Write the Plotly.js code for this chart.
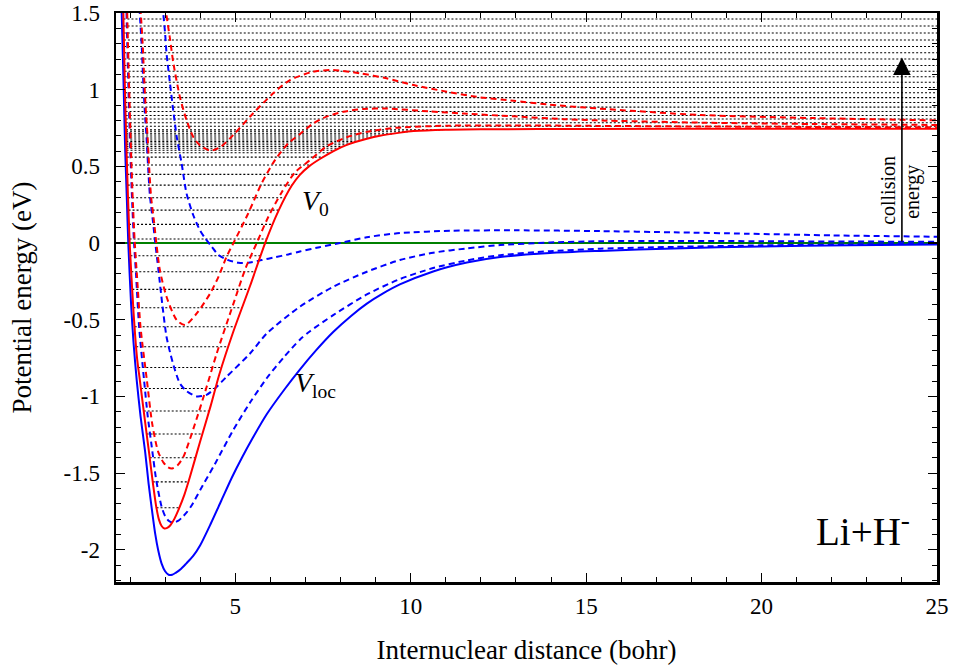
<!DOCTYPE html>
<html>
<head>
<meta charset="utf-8">
<script src="https://cdn.plot.ly/plotly-3.0.1.min.js"></script>
<style>html,body{margin:0;padding:0;background:#fff;}#chart{width:954px;height:665px;}</style>
</head>
<body>
<div id="chart"></div>
<script>
// ---------- data ----------
const xRange = [1.6, 25];
const yRange = [-2.21, 1.5];

// V_loc (blue solid)
const xLoc = [1.74,1.78,1.82,1.86,1.91,1.95,2.03,2.1,2.19,2.3,2.43,2.53,2.63,2.72,2.8,2.9,3.0,3.1,3.2,3.3,3.45,3.6,3.8,4.0,4.3,4.6,4.9,5.2,5.5,5.9,6.4,6.84,7.3,7.79,8.3,8.75,9.2,9.69,10.64,11.6,12.55,13.97,15.4,17.5,20,22.5,25];
const yLoc = [1.7,1.35,1.0,0.62,0.28,0.0,-0.4,-0.65,-0.894,-1.13,-1.36,-1.57,-1.75,-1.9,-2.0,-2.09,-2.14,-2.163,-2.163,-2.15,-2.125,-2.09,-2.04,-1.97,-1.83,-1.68,-1.53,-1.395,-1.27,-1.115,-0.955,-0.825,-0.7,-0.58,-0.475,-0.395,-0.33,-0.27,-0.185,-0.127,-0.091,-0.065,-0.051,-0.035,-0.022,-0.014,-0.009];

// V_0 (red solid)
const xV0 = [1.78,1.81,1.85,1.9,1.99,2.1,2.2,2.28,2.42,2.55,2.66,2.74,2.82,2.9,2.98,3.06,3.15,3.26,3.38,3.55,3.7,3.99,4.3,4.54,4.94,5.42,5.85,6.23,6.61,6.84,7.1,7.41,7.8,8.18,8.75,9.12,9.7,10.08,11,12,15,20,25];
const yV0 = [1.7,1.49,1.05,0.6,0.0,-0.45,-0.75,-0.894,-1.15,-1.38,-1.58,-1.71,-1.8,-1.845,-1.861,-1.857,-1.84,-1.8,-1.74,-1.64,-1.53,-1.30,-1.06,-0.86,-0.58,-0.28,0.0,0.21,0.375,0.445,0.5,0.548,0.6,0.64,0.68,0.70,0.72,0.73,0.739,0.742,0.744,0.745,0.745];

// blue dashed curves
const xB1 = [1.88,1.91,1.95,2.0,2.05,2.11,2.17,2.26,2.4,2.5,2.62,2.75,2.9,3.0,3.1,3.2,3.28,3.38,3.5,3.62,3.76,4.0,4.42,4.94,5.42,5.9,6.4,6.84,7.13,7.79,8.75,9.69,10.64,11.6,12.55,13.97,15.4,17.5,20,22.5,25];
const yB1 = [1.7,1.4,1.05,0.65,0.33,0.02,-0.2,-0.55,-0.894,-1.12,-1.33,-1.55,-1.72,-1.78,-1.81,-1.822,-1.82,-1.81,-1.785,-1.755,-1.71,-1.61,-1.44,-1.22,-1.04,-0.88,-0.74,-0.63,-0.575,-0.47,-0.335,-0.235,-0.163,-0.113,-0.079,-0.053,-0.037,-0.025,-0.015,-0.009,-0.005];

const xB2 = [2.26,2.28,2.33,2.38,2.43,2.47,2.52,2.57,2.66,2.71,2.81,2.92,3.04,3.16,3.28,3.42,3.61,3.9,4.18,4.42,4.75,5.42,5.9,6.84,7.79,8.75,9.69,10.64,11.6,12.55,13.97,15.4,17.5,20,22.5,25];
const yB2 = [1.6,1.49,1.30,1.04,0.824,0.693,0.476,0.302,0.128,0.02,-0.176,-0.4,-0.611,-0.73,-0.828,-0.915,-0.965,-1.0,-0.99,-0.948,-0.872,-0.72,-0.589,-0.415,-0.285,-0.187,-0.111,-0.063,-0.035,-0.013,0.004,0.012,0.014,0.012,0.01,0.008];

const xB3 = [2.93,2.95,3.0,3.04,3.14,3.23,3.28,3.33,3.47,3.61,3.8,3.99,4.14,4.33,4.52,4.8,5.09,5.37,5.75,6.13,6.51,6.84,7.4,7.98,8.8,9.69,11.12,13,15.4,17.5,19.6,22,25];
const yB3 = [1.55,1.49,1.368,1.237,1.04,0.867,0.78,0.693,0.52,0.324,0.183,0.085,0.031,-0.024,-0.078,-0.111,-0.128,-0.128,-0.111,-0.093,-0.074,-0.055,-0.027,0.0,0.04,0.065,0.08,0.083,0.078,0.07,0.061,0.05,0.041];

// red dashed curves
const xR1 = [1.9,1.93,1.97,2.02,2.07,2.13,2.2,2.3,2.48,2.63,2.8,2.95,3.08,3.2,3.35,3.52,3.85,4.18,4.47,4.94,5.3,5.61,5.94,6.32,6.7,7.13,7.6,8.18,8.75,9.6,11.03,12.93,15.3,18.3,21.5,25];
const yR1 = [1.7,1.4,1.05,0.65,0.33,0.02,-0.22,-0.55,-0.894,-1.176,-1.36,-1.43,-1.462,-1.47,-1.45,-1.394,-1.18,-0.94,-0.72,-0.4,-0.16,0.0,0.17,0.33,0.46,0.541,0.63,0.69,0.725,0.752,0.765,0.767,0.764,0.76,0.757,0.755];

const xR2 = [2.29,2.31,2.36,2.41,2.46,2.5,2.55,2.6,2.69,2.74,2.85,3.04,3.33,3.57,3.9,4.28,4.52,4.75,4.97,5.37,5.75,6.13,6.51,6.84,7.22,7.6,8.08,8.65,9.3,10.55,11.5,12.93,14.35,15.3,18.3,21.5,25];
const yR2 = [1.6,1.49,1.30,1.04,0.824,0.693,0.476,0.302,0.128,0.02,-0.176,-0.35,-0.502,-0.535,-0.459,-0.33,-0.22,-0.09,0.01,0.194,0.389,0.541,0.65,0.71,0.78,0.824,0.856,0.874,0.877,0.858,0.845,0.826,0.808,0.8,0.785,0.776,0.77];

const xR3 = [3.02,3.04,3.14,3.23,3.42,3.61,3.8,4.0,4.3,4.6,4.94,5.51,6.08,6.56,7.22,7.79,8.55,9.31,10.08,11.03,11.98,12.93,13.88,15.3,18.27,21.5,25];
const yR3 = [1.55,1.487,1.33,1.18,0.954,0.802,0.693,0.635,0.602,0.63,0.704,0.846,0.976,1.063,1.117,1.128,1.107,1.074,1.03,0.987,0.95,0.928,0.904,0.878,0.835,0.815,0.80];

// level energies (eV): bound (between turning points of V_0) and continuum (to the right edge)
const boundLevels = [-1.726,-1.557,-1.400,-1.245,-1.095,-0.948,-0.811,-0.676,-0.546,-0.422,-0.302,-0.187,-0.083,0.026,0.122,0.215,0.295,0.378,0.448,0.509,0.560,0.589,0.605,0.618,0.630,0.641,0.652,0.662,0.672,0.685,0.698,0.712,0.726,0.738];
const contLevels = [0.762,0.784,0.809,0.832,0.858,0.886,0.916,0.948,0.98,1.014,1.048,1.084,1.12,1.158,1.2,1.241,1.282,1.324,1.37,1.415,1.461];

// threshold line and arrow
const zeroLevel = 0;
const arrowX = 24;
const arrowTop = 1.21;

// axis ticks
const xTicks = [5,10,15,20,25];
const xTickText = ['5','10','15','20','25'];
const yTicks = [-2,-1.5,-1,-0.5,0,0.5,1,1.5];
const yTickText = ['-2','-1.5','-1','-0.5','0','0.5','1','1.5'];

// ---------- turning points of V_0 by interpolation ----------
function leftTurn(E){
  for (let i=1;i<xV0.length;i++){
    if (yV0[i] <= E){
      const t=(E-yV0[i-1])/(yV0[i]-yV0[i-1]);
      return xV0[i-1]+t*(xV0[i]-xV0[i-1]);
    }
  }
  return xV0[0];
}
function rightTurn(E){
  let imin=0; for(let i=1;i<yV0.length;i++) if(yV0[i]<yV0[imin]) imin=i;
  for (let i=imin+1;i<xV0.length;i++){
    if (yV0[i] >= E){
      const t=(E-yV0[i-1])/(yV0[i]-yV0[i-1]);
      return xV0[i-1]+t*(xV0[i]-xV0[i-1]);
    }
  }
  return xRange[1];
}
const lvX=[], lvY=[];
boundLevels.forEach(E=>{ lvX.push(leftTurn(E), rightTurn(E), null); lvY.push(E,E,null); });
contLevels.forEach(E=>{ lvX.push(leftTurn(E), xRange[1], null); lvY.push(E,E,null); });

const RED='#ff0000', BLUE='#0000ff', GREEN='#008000';
const dashPat='6px,4px';
function curve(x,y,color,dash){
  return {x:x,y:y,type:'scatter',mode:'lines',hoverinfo:'skip',showlegend:false,
    line:{color:color,width:2,dash:dash,shape:'spline',smoothing:0.7}};
}

const traces = [
  {x:lvX,y:lvY,type:'scatter',mode:'lines',hoverinfo:'skip',showlegend:false,connectgaps:false,
   line:{color:'#000',width:1.1,dash:'2px,2px'}},
  {x:xRange,y:[zeroLevel,zeroLevel],type:'scatter',mode:'lines',hoverinfo:'skip',showlegend:false,
   line:{color:GREEN,width:2}},
  curve(xB3,yB3,BLUE,dashPat),
  curve(xB2,yB2,BLUE,dashPat),
  curve(xB1,yB1,BLUE,dashPat),
  curve(xR3,yR3,RED,dashPat),
  curve(xR2,yR2,RED,dashPat),
  curve(xR1,yR1,RED,dashPat),
  curve(xLoc,yLoc,BLUE,'solid'),
  curve(xV0,yV0,RED,'solid')
];

const FONT='"Liberation Serif", "Times New Roman", serif';
const layout = {
  width:954, height:665,
  margin:{l:116,r:17,t:13,b:83,pad:0},
  paper_bgcolor:'#fff', plot_bgcolor:'#fff',
  font:{family:FONT,color:'#000',size:23},
  showlegend:false,
  xaxis:{range:xRange,tickmode:'array',tickvals:xTicks,ticktext:xTickText,
    ticks:'inside',ticklen:9,tickwidth:1.2,tickcolor:'#000',
    minor:{tick0:0,dtick:1,ticks:'inside',ticklen:5,tickwidth:1,tickcolor:'#000'},
    showline:true,linewidth:2.5,linecolor:'#000',mirror:'allticks',
    showgrid:false,zeroline:false,ticklabelstandoff:2,
    tickfont:{family:FONT,size:23,color:'#000'},
    title:{text:'Internuclear distance (bohr)',font:{family:FONT,size:27,color:'#000'},standoff:22}},
  yaxis:{range:yRange,tickmode:'array',tickvals:yTicks,ticktext:yTickText,
    ticks:'inside',ticklen:9,tickwidth:1.2,tickcolor:'#000',
    minor:{tick0:0,dtick:0.1,ticks:'inside',ticklen:5,tickwidth:1,tickcolor:'#000'},
    showline:true,linewidth:2.5,linecolor:'#000',mirror:'allticks',
    showgrid:false,zeroline:false,ticklabelstandoff:9,
    tickfont:{family:FONT,size:23,color:'#000'},
    title:{text:'Potential energy (eV)',font:{family:FONT,size:27,color:'#000'},standoff:24}},
  annotations:[
    {x:arrowX,y:arrowTop,ax:arrowX,ay:zeroLevel,xref:'x',yref:'y',axref:'x',ayref:'y',
     text:'',showarrow:true,arrowhead:2,arrowsize:2.2,arrowwidth:1.6,arrowcolor:'#000'},
    {x:23.6,y:0.346,xref:'x',yref:'y',text:'collision',showarrow:false,textangle:-90,
     font:{family:FONT,size:20,color:'#000'}},
    {x:24.31,y:0.333,xref:'x',yref:'y',text:'energy',showarrow:false,textangle:-90,
     font:{family:FONT,size:20,color:'#000'}},
    {x:7.28,y:0.267,xref:'x',yref:'y',text:'<i>V</i><sub>0</sub>',showarrow:false,
     font:{family:FONT,size:28,color:'#000'}},
    {x:7.28,y:-0.92,xref:'x',yref:'y',text:'<i>V</i><sub>loc</sub>',showarrow:false,
     font:{family:FONT,size:28,color:'#000'}},
    {x:22.9,y:-1.865,xref:'x',yref:'y',text:'Li+H<sup>-</sup>',showarrow:false,
     font:{family:FONT,size:39,color:'#000'}}
  ]
};

Plotly.newPlot('chart', traces, layout, {staticPlot:true, displayModeBar:false});
</script>
</body>
</html>
